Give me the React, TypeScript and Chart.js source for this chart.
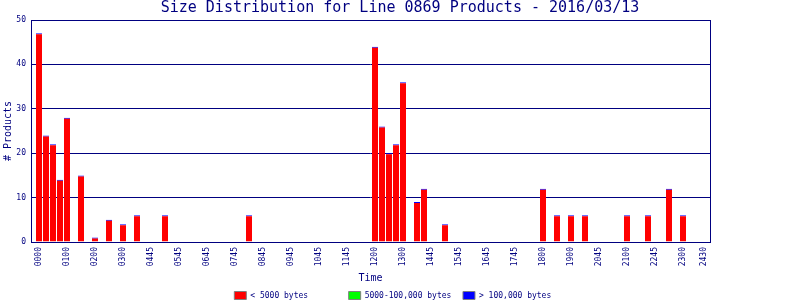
import React, { useEffect, useRef } from "react";
import { Chart, registerables } from "chart.js";

Chart.register(...registerables);

const TITLE = "Size Distribution for Line 0869 Products - 2016/03/13";
const NAVY = "#000080";
const FONT = "'DejaVu Sans Mono', monospace";

// 15-minute slots that have bars
const SLOTS = [0, 1, 2, 3, 4, 6, 8, 10, 12, 14, 18, 30, 48, 49, 50, 51, 52, 54, 55, 58, 72, 74, 76, 78, 84, 87, 90, 92];
// < 5000 bytes
const SMALL = [47, 24, 22, 14, 28, 15, 1, 5, 4, 6, 6, 6, 44, 26, 20, 22, 36, 9, 12, 4, 12, 6, 6, 6, 6, 6, 12, 6];
// 5000-100,000 bytes
const MEDIUM = [0, 0, 0, 0, 0, 0, 0, 0, 0, 0, 0, 0, 0, 0, 0, 0, 0, 0, 0, 0, 0, 0, 0, 0, 0, 0, 0, 0];
// > 100,000 bytes
const LARGE = [0, 0, 0, 0, 0, 0, 0, 0, 0, 0, 0, 0, 0, 0, 0, 0, 0, 0, 0, 0, 0, 0, 0, 0, 0, 0, 0, 0];

const TICK_SLOTS = [0, 4, 8, 12, 16, 20, 24, 28, 32, 36, 40, 44, 48, 52, 56, 60, 64, 68, 72, 76, 80, 84, 88, 92, 95];
const TICK_LABELS = [
  "0000", "0100", "0200", "0300", "0445", "0545", "0645", "0745", "0845", "0945",
  "1045", "1145", "1200", "1300", "1445", "1545", "1645", "1745", "1800", "1900",
  "2045", "2100", "2245", "2300", "2430",
];

const SERIES_LABELS = ["< 5000 bytes", "5000-100,000 bytes", "> 100,000 bytes"];
const LEGEND_PAD = [20, 20, 18];
const COLORS = ["#FF0000", "#00FF00", "#0000FF"];

const X_MIN = -1.143;
const X_MAX = 95.857;

const framePlugin = {
  id: "frame",
  afterDraw(chart: any) {
    const { ctx, chartArea } = chart;
    ctx.save();
    ctx.strokeStyle = NAVY;
    ctx.lineWidth = 1;
    const l = Math.round(chartArea.left) + 0.5;
    const t = Math.round(chartArea.top) + 0.5;
    const r = Math.round(chartArea.right) + 0.5;
    const b = Math.round(chartArea.bottom) + 0.5;
    ctx.strokeRect(l, t, r - l, b - t);
    ctx.restore();
  },
};

export default function App() {
  const ref = useRef<HTMLCanvasElement | null>(null);

  useEffect(() => {
    if (!ref.current) return;
    const mk = (vals: number[]) => SLOTS.map((s, i) => ({ x: s, y: vals[i] }));
    const chart = new Chart(ref.current, {
      type: "bar",
      data: {
        datasets: [
          {
            label: SERIES_LABELS[0],
            data: mk(SMALL),
            backgroundColor: COLORS[0],
            borderColor: COLORS[2],
            borderWidth: { top: 1, right: 0, bottom: 0, left: 0 },
            borderSkipped: false,
            barThickness: 6,
            inflateAmount: 0,
          },
          {
            label: SERIES_LABELS[1],
            data: mk(MEDIUM),
            backgroundColor: COLORS[1],
            borderWidth: 0,
            barThickness: 6,
            inflateAmount: 0,
          },
          {
            label: SERIES_LABELS[2],
            data: mk(LARGE),
            backgroundColor: COLORS[2],
            borderWidth: 0,
            barThickness: 6,
            inflateAmount: 0,
          },
        ],
      } as any,
      options: {
        animation: false,
        responsive: false,
        devicePixelRatio: 1,
        layout: { padding: 0 },
        scales: {
          x: {
            type: "linear",
            min: X_MIN,
            max: X_MAX,
            offset: false,
            stacked: true,
            grid: { display: false, drawTicks: false, offset: false },
            border: { display: false },
            afterBuildTicks: (scale: any) => {
              scale.ticks = TICK_SLOTS.map((v) => ({ value: v }));
            },
            afterFit: (scale: any) => {
              scale.height = 47.5;
            },
            ticks: {
              autoSkip: false,
              minRotation: 90,
              maxRotation: 90,
              padding: 5,
              color: NAVY,
              font: { family: FONT, size: 8 },
              callback: (v: any) => {
                const i = TICK_SLOTS.indexOf(Number(v));
                return i >= 0 ? TICK_LABELS[i] : "";
              },
            },
            title: {
              display: true,
              text: "Time",
              color: NAVY,
              font: { family: FONT, size: 10, lineHeight: 1 },
              padding: { top: 0, bottom: 6.5 },
            },
          },
          y: {
            type: "linear",
            min: 0,
            max: 50,
            stacked: true,
            grid: { color: NAVY, lineWidth: 1, drawTicks: false },
            border: { display: false },
            afterFit: (scale: any) => {
              scale.width = 31;
            },
            ticks: {
              stepSize: 10,
              padding: 5,
              color: NAVY,
              font: { family: FONT, size: 8 },
            },
            title: {
              display: true,
              text: "# Products",
              color: NAVY,
              font: { family: FONT, size: 10, lineHeight: 1 },
              padding: { top: 3, bottom: 0 },
            },
          },
          y2: {
            type: "linear",
            axis: "y",
            position: "right",
            display: true,
            grid: { display: false, drawTicks: false },
            border: { display: false },
            ticks: { display: false },
            afterFit: (scale: any) => {
              scale.width = 90;
            },
          },
        } as any,
        plugins: {
          title: {
            display: true,
            text: TITLE,
            color: NAVY,
            font: { family: FONT, size: 15, weight: "normal", lineHeight: 1 },
            padding: { top: 0.5, bottom: 4.5 },
          },
          legend: {
            display: true,
            position: "bottom",
            maxHeight: 10.5,
            labels: {
              boxWidth: 12,
              boxHeight: 8,
              padding: 2,
              color: NAVY,
              font: { family: FONT, size: 8 },
              generateLabels: (c: any) =>
                c.data.datasets.map((ds: any, i: number) => ({
                  text: SERIES_LABELS[i].padEnd(LEGEND_PAD[i], " "),
                  fillStyle: ds.backgroundColor,
                  strokeStyle: "#808080",
                  lineWidth: 1,
                  hidden: false,
                  datasetIndex: i,
                  fontColor: NAVY,
                })),
            },
          },
          tooltip: { enabled: false },
        },
      } as any,
      plugins: [framePlugin],
    });
    return () => chart.destroy();
  }, []);

  return (
    <div style={{ position: "fixed", left: 0, top: 0, width: 800, height: 300, background: "#fff" }}>
      <canvas ref={ref} width={800} height={300} style={{ display: "block" }} />
    </div>
  );
}
